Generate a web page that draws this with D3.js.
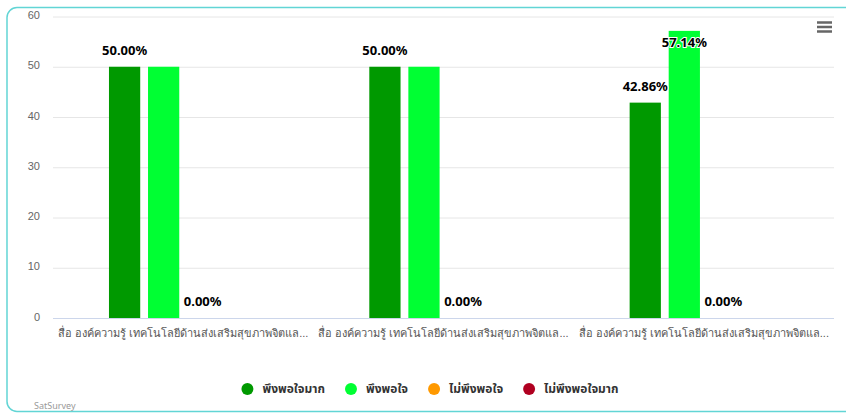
<!DOCTYPE html>
<html>
<head>
<style>
  body {
    margin: 0;
    background-color: #ffffff;
  }

  svg {
    display: block;
    font-family: "Noto Sans", "Noto Sans Thai", sans-serif;
  }
</style>
  <script src="https://d3js.org/d3.v7.min.js"></script>
</head>
<body>
<script>
// grouped bars, satisfaction per category
const categories = [
  'สื่อ องค์ความรู้ เทคโนโลยีด้านส่งเสริมสุขภาพจิตและป้องกันปัญหาสุขภาพจิต',
  'สื่อ องค์ความรู้ เทคโนโลยีด้านส่งเสริมสุขภาพจิตและป้องกันปัญหาสุขภาพจิต',
  'สื่อ องค์ความรู้ เทคโนโลยีด้านส่งเสริมสุขภาพจิตและป้องกันปัญหาสุขภาพจิต',
];
const seriesNames = ['พึงพอใจมาก', 'พึงพอใจ', 'ไม่พึงพอใจ', 'ไม่พึงพอใจมาก'];
const seriesColors = ['#009900', '#00ff33', '#ff9900', '#b00020'];
const veryPleased = [50, 50, 42.86];
const pleased = [50, 50, 57.14];
const notPleased = [0, 0, 0];
const veryNotPleased = [0, 0, 0];
const yTicks = [0, 10, 20, 30, 40, 50, 60];

const seriesValues = [veryPleased, pleased, notPleased, veryNotPleased];

const width = 846;
const height = 413;
const plot = { left: 53, right: 834, top: 16.5, bottom: 318 };

const svg = d3.select('body')
  .append('svg')
  .attr('width', width)
  .attr('height', height);

// frame
svg.append('rect')
  .attr('x', 7)
  .attr('y', 7.5)
  .attr('width', 900)
  .attr('height', 404)
  .attr('rx', 10)
  .attr('fill', 'none')
  .attr('stroke', '#62d5d5')
  .attr('stroke-width', 1.5);

const x0 = d3.scaleBand()
  .domain(d3.range(categories.length))
  .range([plot.left, plot.right]);

const x1 = d3.scaleBand()
  .domain(d3.range(seriesNames.length))
  .range([x0.bandwidth() * 0.2, x0.bandwidth() * 0.8])
  .paddingInner(0.2)
  .paddingOuter(0.1);

const y = d3.scaleLinear()
  .domain([0, 60])
  .range([plot.bottom, plot.top]);

// gridlines + y labels
const yAxis = svg.append('g')
  .attr('transform', `translate(${plot.left},0)`)
  .call(d3.axisLeft(y).tickValues(yTicks).tickSize(-(plot.right - plot.left)).tickPadding(13));
yAxis.select('.domain').remove();
yAxis.selectAll('.tick line')
  .attr('stroke', d => d === 0 ? '#ccd6eb' : '#e6e6e6');
yAxis.selectAll('.tick text')
  .attr('fill', '#666666')
  .attr('font-size', 11)
  .attr('dy', '0.2em');

// category labels, cut with ... to fit the band
const xAxis = svg.append('g')
  .attr('transform', `translate(0,${plot.bottom})`)
  .call(d3.axisBottom(x0).tickSize(0).tickPadding(11).tickFormat(i => categories[i]));
xAxis.select('.domain').remove();
xAxis.selectAll('.tick text')
  .attr('fill', '#555555')
  .attr('font-size', 11)
  .each(function () {
    const t = d3.select(this);
    const full = t.text();
    const maxW = x0.bandwidth() - 8;
    if (this.getComputedTextLength() <= maxW) return;
    let n = full.length;
    while (n > 0) {
      t.text(full.slice(0, n) + '...');
      if (this.getComputedTextLength() <= maxW) break;
      n--;
    }
  });

// bars
const groups = svg.append('g')
  .selectAll('g')
  .data(categories.map((c, i) => i))
  .join('g')
  .attr('transform', i => `translate(${x0(i)},0)`);

groups.selectAll('rect')
  .data(i => seriesValues.map((vals, s) => ({ s, v: vals[i] })))
  .join('rect')
  .attr('x', d => x1(d.s))
  .attr('y', d => y(d.v))
  .attr('width', x1.bandwidth())
  .attr('height', d => plot.bottom - y(d.v))
  .attr('fill', d => seriesColors[d.s]);

// data labels, hidden when they overlap one already placed
const labelLayer = svg.append('g');
const placed = [];
seriesValues.forEach((vals, s) => {
  vals.forEach((v, i) => {
    const cx = x0(i) + x1(s) + x1.bandwidth() / 2;
    let base = y(v) - 12;
    if (base - 15 < plot.top) base = y(v) + 16;
    const t = labelLayer.append('text')
      .attr('x', cx)
      .attr('y', base)
      .attr('text-anchor', 'middle')
      .attr('font-size', 13)
      .attr('font-weight', 'bold')
      .attr('fill', '#000000')
      .attr('stroke', '#ffffff')
      .attr('stroke-width', 2)
      .attr('paint-order', 'stroke')
      .text(v.toFixed(2) + '%');
    const w = t.node().getComputedTextLength();
    const box = { x0: cx - w / 2 - 5, x1: cx + w / 2 + 5, y0: base - 15, y1: base + 5 };
    const hit = placed.some(b => b.x0 < box.x1 && box.x0 < b.x1 && b.y0 < box.y1 && box.y0 < b.y1);
    if (hit) t.remove();
    else placed.push(box);
  });
});

// legend
const legend = svg.append('g');
let lx = 0;
seriesNames.forEach((name, s) => {
  const item = legend.append('g').attr('transform', `translate(${lx},0)`);
  item.append('circle')
    .attr('cx', 6)
    .attr('cy', 0)
    .attr('r', 6)
    .attr('fill', seriesColors[s]);
  const t = item.append('text')
    .attr('x', 21)
    .attr('y', 4)
    .attr('font-size', 12)
    .attr('font-weight', 'bold')
    .attr('fill', '#333333')
    .text(name);
  lx += 21 + t.node().getComputedTextLength() + 20;
});
const legendW = lx - 20;
legend.attr('transform', `translate(${430 - legendW / 2},389)`);

// menu icon
svg.append('g')
  .selectAll('line')
  .data([22.5, 27, 31.5])
  .join('line')
  .attr('x1', 817)
  .attr('x2', 832)
  .attr('y1', d => d)
  .attr('y2', d => d)
  .attr('stroke', '#666666')
  .attr('stroke-width', 2.5);

// credits
svg.append('text')
  .attr('x', 34)
  .attr('y', 409)
  .attr('font-size', 9)
  .attr('fill', '#999999')
  .text('SatSurvey');
</script>
</body>
</html>
